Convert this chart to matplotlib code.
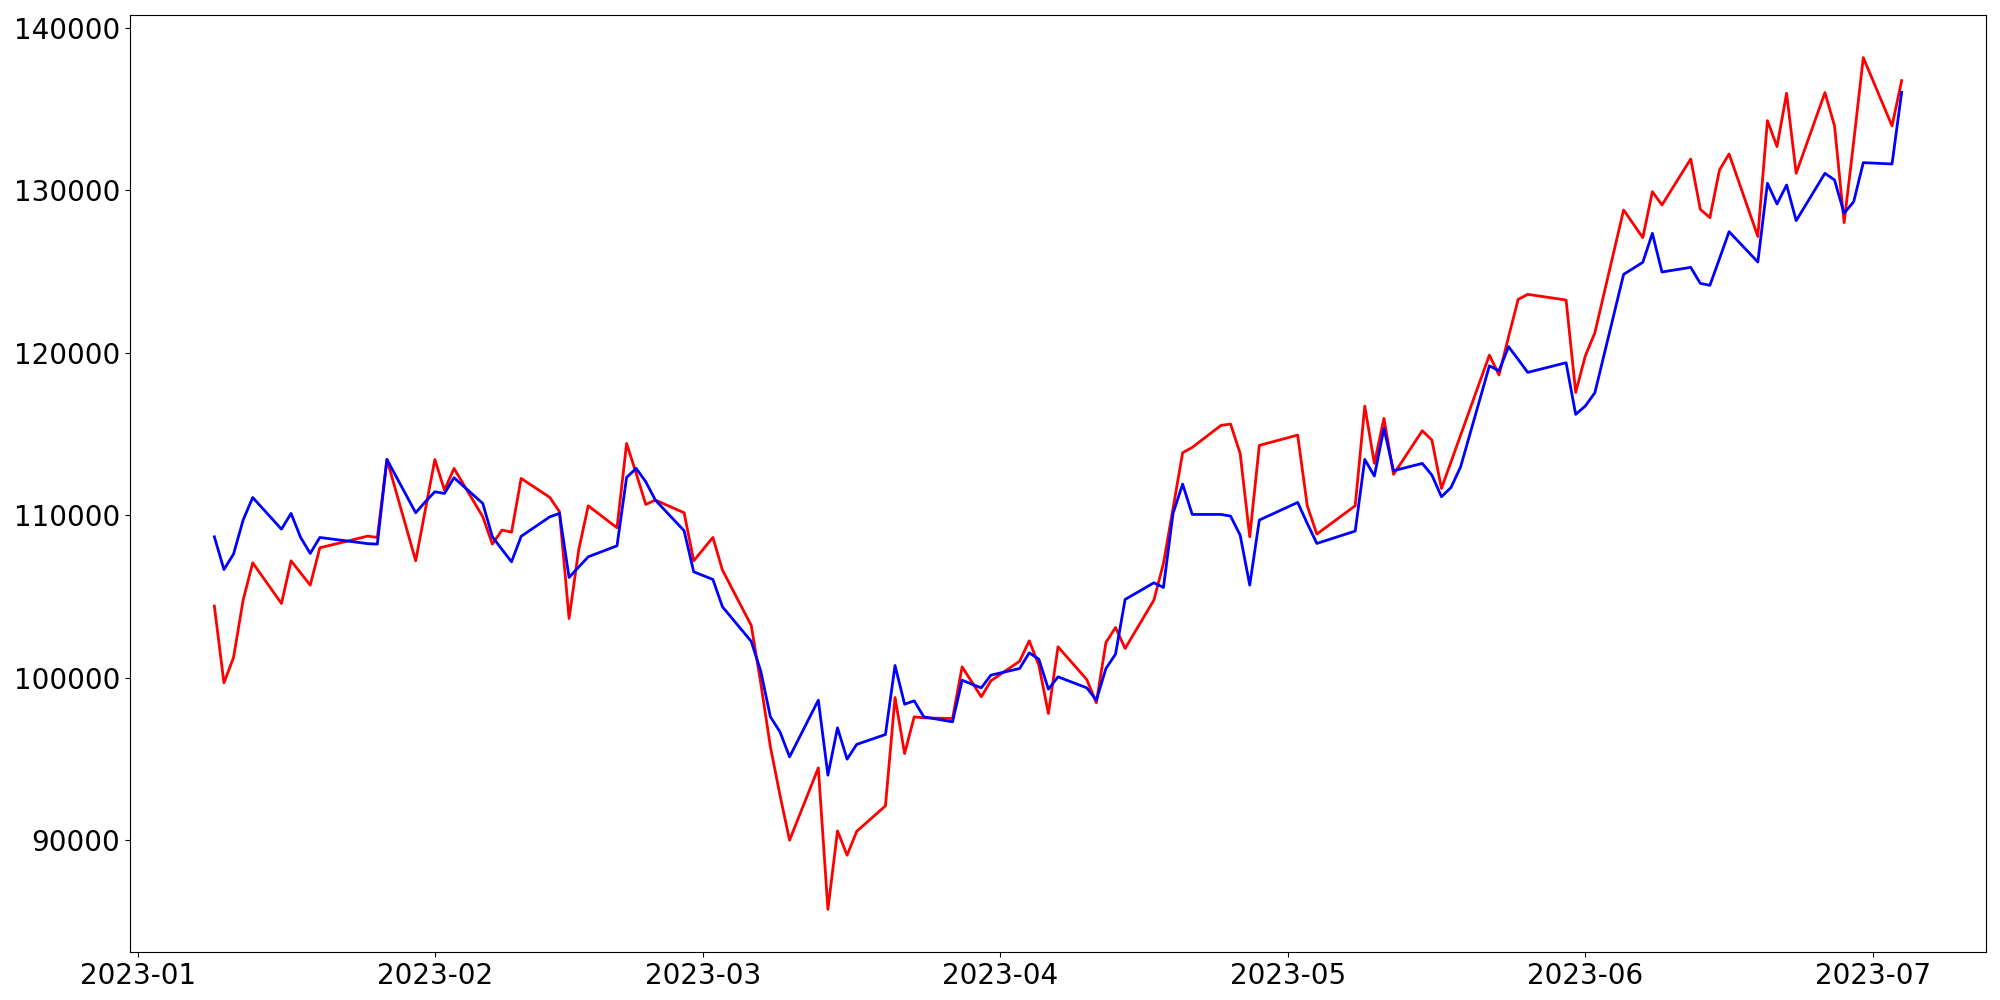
import numpy as np
import pandas as pd
import matplotlib
matplotlib.use("Agg")
import matplotlib.pyplot as plt

# KRX trading days, Jan 9 - Jul 4 2023 (market holidays removed)
holidays = ["2023-01-23", "2023-01-24", "2023-03-01", "2023-05-01",
            "2023-05-05", "2023-05-29", "2023-06-06"]
dates = pd.bdate_range("2023-01-09", "2023-07-04", freq="C", holidays=holidays)

red_jan = [104406, 99688, 101247, 104775, 107072, 104570, 107195, 106447, 105698, 107995,
           108713, 108631, 113431, 107195, 110314]
red_feb = [113431, 111544, 112878, 109903, 108221, 109083, 108959, 112262, 111093, 110211,
           103647, 107852, 110580, 109226, 114416, 112570, 110662, 110929, 110150, 107195]
red_mar = [108631, 106621, 103220, 99648, 95750, 92776, 90007, 94458, 85750, 90581,
           89084, 90550, 92119, 98786, 95339, 97596, 97534, 97493, 100673, 99750,
           98827, 99811]
red_apr = [101021, 102273, 100775, 97801, 101904, 99893, 98457, 102170, 103093, 101801,
           104776, 107032, 110417, 113842, 114170, 115524, 115607, 113801, 108673, 114294]
red_may = [114929, 110581, 108837, 110581, 116714, 113186, 115955, 112509, 115196, 114622,
           111647, 113289, 114929, 119852, 118621, 120980, 123277, 123585, 123236, 117554]
red_jun = [119790, 121226, 128777, 127073, 129903, 129083, 131914, 128816, 128304, 131237,
           132221, 127150, 134273, 132673, 135955, 131032, 135996, 133945, 127996, 132980,
           138150]
red_jul = [133945, 136734]

blue_jan = [108670, 106660, 107610, 109700, 111090, 109140, 110110, 108630, 107650, 108630,
            108250, 108220, 113430, 110150, 110826]
blue_feb = [111442, 111339, 112304, 110724, 108672, 107893, 107134, 108700, 109903, 110108,
            106170, 106810, 107442, 108118, 112324, 112878, 112057, 110929, 109042, 106519]
blue_mar = [106047, 104365, 102240, 100400, 97596, 96673, 95135, 98622, 94007, 96920,
            94991, 95900, 96508, 100755, 98375, 98581, 97596, 97288, 99852, 99606,
            99380, 100160]
blue_apr = [100570, 101534, 101144, 99298, 100057, 99380, 98621, 100570, 101452, 104816,
            105842, 105555, 110109, 111914, 110047, 110047, 109945, 108776, 105698, 109699]
blue_may = [110786, 109494, 108263, 109022, 113432, 112406, 115340, 112735, 113186, 112468,
            111135, 111709, 112981, 119190, 118880, 120365, 119585, 118785, 119380, 116201]
blue_jun = [116714, 117533, 124816, 125555, 127339, 124960, 125247, 124263, 124140, 125780,
            127442, 125575, 130416, 129145, 130314, 128119, 131032, 130622, 128571, 129288,
            131688]
blue_jul = [131607, 136016]

red = red_jan + red_feb + red_mar + red_apr + red_may + red_jun + red_jul
blue = blue_jan + blue_feb + blue_mar + blue_apr + blue_may + blue_jun + blue_jul

fig, ax = plt.subplots(figsize=(20, 10), dpi=100)
ax.plot(dates, red, color="red", linewidth=2)
ax.plot(dates, blue, color="blue", linewidth=2)

ax.tick_params(labelsize=20)
fig.subplots_adjust(left=0.065, right=0.993, top=0.985, bottom=0.048)
fig.savefig("out.png")
